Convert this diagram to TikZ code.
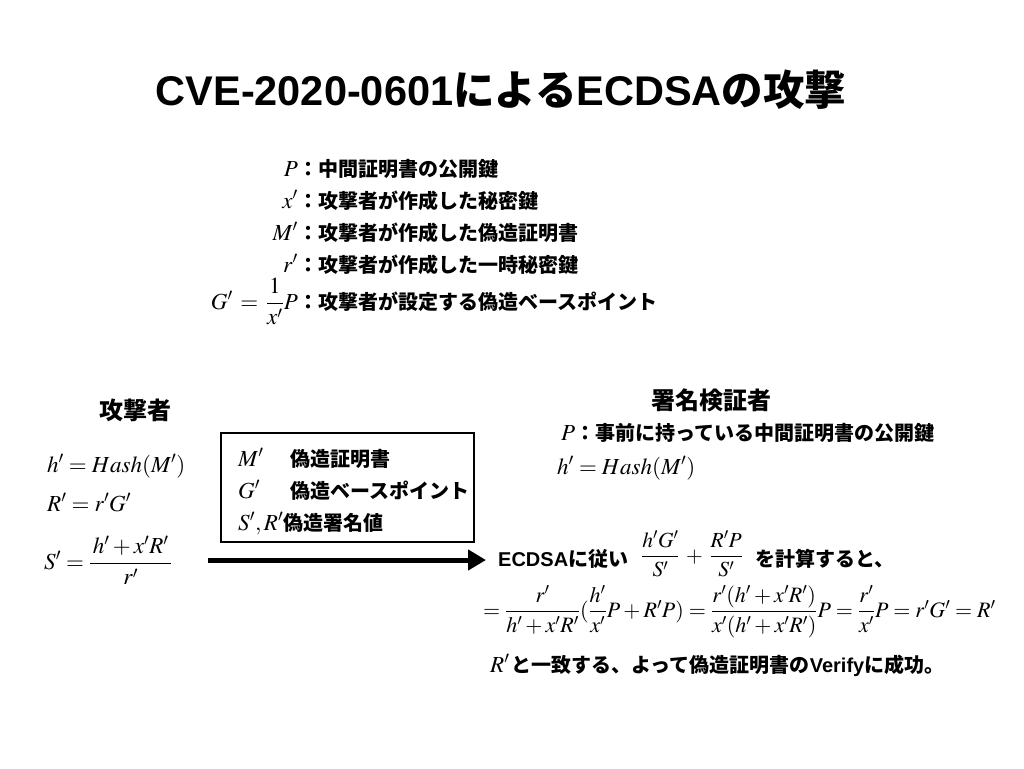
\documentclass[tikz,border=0pt]{standalone}
\usepackage{amsmath}
\usepackage{mathptmx}
\usepackage[no-math]{fontspec}
\setmainfont{Noto Sans CJK JP}
\newfontfamily\lat{Liberation Sans}
\usetikzlibrary{arrows.meta}
\newcommand{\mt}[1]{{\fontsize{23}{27}\selectfont$#1$}}
\tikzset{
  ttl/.style={font=\fontsize{41.5}{48}\selectfont\bfseries},
  head/.style={font=\fontsize{24}{28}\selectfont\bfseries},
  txt/.style={font=\fontsize{20}{24}\selectfont\bfseries, inner sep=0pt},
  mth/.style={font=\fontsize{23}{27}\selectfont, inner sep=0pt},
}
\begin{document}
\begin{tikzpicture}[x=1pt,y=-1pt]
\useasboundingbox (0,0) rectangle (1024,768);
% タイトル
\node[ttl] (title) at (501,90) {{\lat CVE-2020-0601}による{\lat ECDSA}の攻撃};
% 記号の説明
\node[mth, anchor=base east] (mP) at (298,176) {$P$};
\node[txt, anchor=base west] (dP) at (298,176) {：中間証明書の公開鍵};
\node[mth, anchor=base east] (mx) at (298,208) {$x'$};
\node[txt, anchor=base west] (dx) at (298,208) {：攻撃者が作成した秘密鍵};
\node[mth, anchor=base east] (mM) at (298,240) {$M'$};
\node[txt, anchor=base west] (dM) at (298,240) {：攻撃者が作成した偽造証明書};
\node[mth, anchor=base east] (mr) at (298,272) {$r'$};
\node[txt, anchor=base west] (dr) at (298,272) {：攻撃者が作成した一時秘密鍵};
\node[mth, anchor=base east] (mG) at (298,309) {$G'\,=\,\dfrac{1}{x'}P$};
\node[txt, anchor=base west] (dG) at (298,309) {：攻撃者が設定する偽造ベースポイント};
% 攻撃者
\node[head] (atk) at (135,410) {攻撃者};
\node[mth, anchor=base west] (ah) at (47,472) {$h'=Hash(M')$};
\node[mth, anchor=base west] (aR) at (47,511) {$R'=r'G'$};
\node[mth, anchor=base west] (aS) at (44,569) {$S'=\dfrac{\,h'+x'R'\,}{r'}$};
% 送るもの
\draw[line width=1.3pt] (221,433) rectangle (474,542);
\node[mth, anchor=base west] (bM) at (238,466) {$M'$};
\node[txt, anchor=base west] (bMt) at (290,466) {偽造証明書};
\node[mth, anchor=base west] (bG) at (238,498) {$G'$};
\node[txt, anchor=base west] (bGt) at (290,498) {偽造ベースポイント};
\node[txt, anchor=base west] (bS) at (238,530) {\mt{S',R'}偽造署名値};
\coordinate (arrs) at (208,560);
\coordinate (arre) at (486,560);
\draw[line width=5pt, -{Triangle[length=18pt,width=20pt]}] (arrs) -- (arre);
% 署名検証者
\node[head] (ver) at (711,400) {署名検証者};
\node[txt, anchor=base west] (vP) at (561,440) {\mt{P}：事前に持っている中間証明書の公開鍵};
\node[mth, anchor=base west] (vh) at (557,474) {$h'=Hash(M')$};
\node[txt, anchor=base west] (calc) at (498,566) {{\lat ECDSA}に従い\hspace{13pt}{\fontsize{21.5}{25}\selectfont\raisebox{4pt}{$\dfrac{h'G'}{S'}\mkern3mu+\mkern3mu\dfrac{R'P}{S'}$}}\hspace{12pt}を計算すると、};
\node[mth, anchor=base west, font=\fontsize{22}{26}\selectfont] (eq) at (483,617) {$=\dfrac{r'}{h'+x'R'}(\dfrac{h'}{x'}P+R'P)=\dfrac{r'(h'+x'R')}{x'(h'+x'R')}P=\dfrac{r'}{x'}P=r'G'=R'$};
\node[txt, anchor=base west] (res) at (490,672) {\mt{R'}\hspace{2pt}と一致する、よって偽造証明書の{\lat Verify}に成功。};
\end{tikzpicture}
\end{document}
